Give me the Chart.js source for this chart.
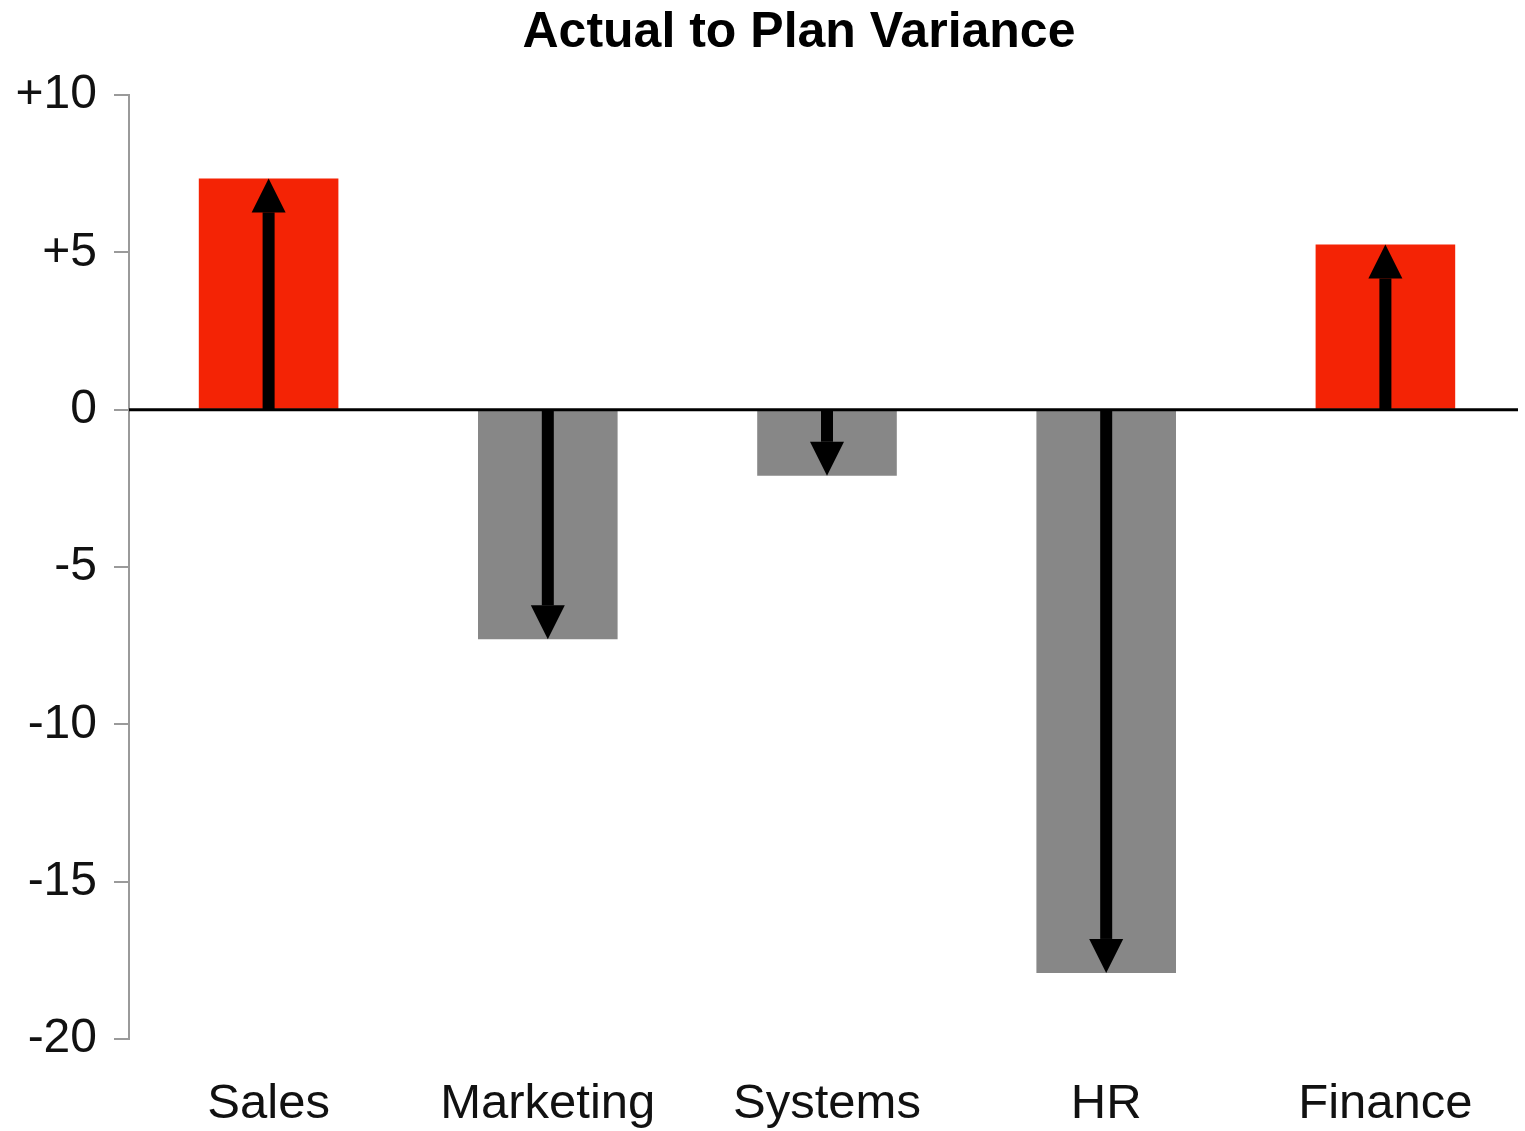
<!DOCTYPE html>
<html>
<head>
<meta charset="utf-8">
<title>Actual to Plan Variance</title>
<script src="https://cdn.jsdelivr.net/npm/chart.js@4/dist/chart.umd.min.js"></script>
<style>
  html, body { margin: 0; padding: 0; background: #fff; }
  #wrap { position: relative; width: 1525px; height: 1131px; }
</style>
</head>
<body>
<div id="wrap"><canvas id="chart"></canvas></div>
<script>
  // Données
  const chartTitle = "Actual to Plan Variance";
  const categories = ["Sales", "Marketing", "Systems", "HR", "Finance"];
  const variance = [7.35, -7.3, -2.1, -17.9, 5.25];
  const yTickValues = [-20, -15, -10, -5, 0, 5, 10];
  const yTickLabels = ["-20", "-15", "-10", "-5", "0", "+5", "+10"];

  const FONT = "'Liberation Sans', Arial, sans-serif";
  const POS_COLOR = "#F42305";
  const NEG_COLOR = "#878787";
  const AXIS_GRAY = "#9a9a9a";

  // titre un peu décalé à droite comme sur l'original
  const titlePlugin = {
    id: "offsetTitle",
    afterDraw(chart) {
      const { ctx } = chart;
      ctx.save();
      ctx.fillStyle = "#000";
      ctx.font = `bold 50px ${FONT}`;
      ctx.textAlign = "center";
      ctx.textBaseline = "middle";
      ctx.fillText(chartTitle, 799, 33);
      ctx.restore();
    },
  };

  // ligne zéro + flèches par-dessus les barres
  const arrowPlugin = {
    id: "varianceArrows",
    afterDatasetsDraw(chart) {
      const { ctx, chartArea } = chart;
      const y = chart.scales.y;
      const meta = chart.getDatasetMeta(0);
      const zeroY = y.getPixelForValue(0);
      ctx.save();
      ctx.strokeStyle = "#000";
      ctx.lineWidth = 3;
      ctx.beginPath();
      ctx.moveTo(chartArea.left, zeroY);
      ctx.lineTo(chartArea.right - 7, zeroY);
      ctx.stroke();

      ctx.fillStyle = "#000";
      meta.data.forEach((bar, i) => {
        const x = bar.x;
        const tipY = bar.y;
        const dir = variance[i] >= 0 ? -1 : 1;
        const head = 34;
        const halfHead = 17;
        const shaft = 12;
        const baseY = tipY - dir * head;
        ctx.fillRect(x - shaft / 2, Math.min(zeroY, baseY), shaft, Math.abs(baseY - zeroY));
        ctx.beginPath();
        ctx.moveTo(x, tipY);
        ctx.lineTo(x - halfHead, baseY);
        ctx.lineTo(x + halfHead, baseY);
        ctx.closePath();
        ctx.fill();
      });
      ctx.restore();
    },
  };

  const ctx = document.getElementById("chart").getContext("2d");
  new Chart(ctx, {
    type: "bar",
    data: {
      labels: categories,
      datasets: [
        {
          data: variance,
          backgroundColor: variance.map((v) => (v >= 0 ? POS_COLOR : NEG_COLOR)),
          borderWidth: 0,
          barPercentage: 0.5,
          categoryPercentage: 1,
        },
      ],
    },
    options: {
      responsive: true,
      maintainAspectRatio: false,
      animation: false,
      layout: { padding: { left: 0, right: 0, top: 95, bottom: 0 } },
      plugins: {
        legend: { display: false },
        tooltip: { enabled: false },
        title: { display: false },
      },
      scales: {
        x: {
          grid: { display: false, drawTicks: false },
          border: { display: false },
          ticks: {
            color: "#111",
            font: { family: FONT, size: 49 },
            padding: 36,
            autoSkip: false,
            maxRotation: 0,
          },
          afterFit: (scale) => {
            scale.height = 92;
          },
        },
        y: {
          min: -20,
          max: 10,
          grid: {
            display: true,
            drawOnChartArea: false,
            drawTicks: true,
            tickLength: 15,
            color: AXIS_GRAY,
            lineWidth: 2,
          },
          border: { display: true, color: AXIS_GRAY, width: 2 },
          afterBuildTicks: (scale) => {
            scale.ticks = yTickValues.map((v) => ({ value: v }));
          },
          ticks: {
            color: "#111",
            font: { family: FONT, size: 48 },
            padding: 17,
            callback: (value) => {
              const i = yTickValues.indexOf(value);
              return i >= 0 ? yTickLabels[i] : "";
            },
          },
          afterFit: (scale) => {
            scale.width = 129;
          },
        },
      },
    },
    plugins: [arrowPlugin, titlePlugin],
  });
</script>
</body>
</html>
